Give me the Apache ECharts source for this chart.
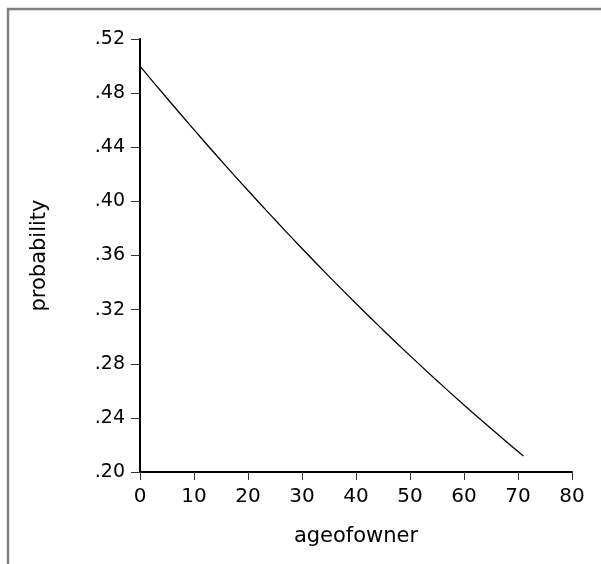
<!DOCTYPE html>
<html>
<head>
<meta charset="utf-8">
<script src="https://cdn.jsdelivr.net/npm/echarts@6/dist/echarts.min.js"></script>
<style>
  html, body { margin: 0; padding: 0; background: #fff; }
  #chart { width: 601px; height: 564px; }
</style>
</head>
<body>
<div id="chart"></div>
<script>
// Predicted probability by owner age
const ageOfOwner = [0, 5, 10, 15, 20, 25, 30, 35, 40, 45, 50, 55, 60, 65, 70, 71];
const probability = [0.500, 0.4762, 0.4530, 0.4302, 0.4080, 0.3864, 0.3652, 0.3446,
                     0.3245, 0.3050, 0.2860, 0.2675, 0.2495, 0.2321, 0.2151, 0.2118];
const xTicks = { min: 0, max: 80, interval: 10 };
const yTicks = { min: 0.20, max: 0.52, interval: 0.04 };

const points = ageOfOwner.map((a, i) => [a, probability[i]]);
const font = '"DejaVu Sans", "Liberation Sans", Arial, sans-serif';

const chart = echarts.init(document.getElementById('chart'), null, { renderer: 'canvas' });
chart.setOption({
  animation: false,
  backgroundColor: '#ffffff',
  grid: { left: 140, top: 39, right: 29, bottom: 92, containLabel: false },
  xAxis: {
    type: 'value',
    min: xTicks.min, max: xTicks.max, interval: xTicks.interval,
    name: 'ageofowner',
    nameLocation: 'middle',
    nameGap: 54,
    nameTextStyle: { fontFamily: font, fontSize: 21, color: '#000' },
    axisLine: { show: true, onZero: false, lineStyle: { color: '#000', width: 2 } },
    axisTick: { show: true, inside: false, length: 8, lineStyle: { color: '#333', width: 1 } },
    axisLabel: { margin: 15, fontFamily: font, fontSize: 20, color: '#000' },
    splitLine: { show: false }
  },
  yAxis: {
    type: 'value',
    min: yTicks.min, max: yTicks.max, interval: yTicks.interval,
    name: 'probability',
    nameLocation: 'middle',
    nameGap: 90,
    nameRotate: 90,
    nameTextStyle: { fontFamily: font, fontSize: 21, color: '#000' },
    axisLine: { show: true, onZero: false, lineStyle: { color: '#000', width: 2 } },
    axisTick: { show: true, inside: false, length: 9, lineStyle: { color: '#333', width: 1 } },
    axisLabel: {
      margin: 15, fontFamily: font, fontSize: 19, color: '#000',
      formatter: v => v.toFixed(2).replace(/^0/, '')
    },
    splitLine: { show: false }
  },
  series: [{
    type: 'line',
    data: points,
    smooth: true,
    showSymbol: false,
    lineStyle: { color: '#000', width: 1.3 }
  }],
  graphic: [
    { type: 'line', shape: { x1: 7, y1: 9, x2: 601, y2: 9 }, style: { stroke: '#808080', lineWidth: 2.5 } },
    { type: 'line', shape: { x1: 8, y1: 8, x2: 8, y2: 564 }, style: { stroke: '#808080', lineWidth: 2.5 } }
  ]
});
</script>
</body>
</html>
